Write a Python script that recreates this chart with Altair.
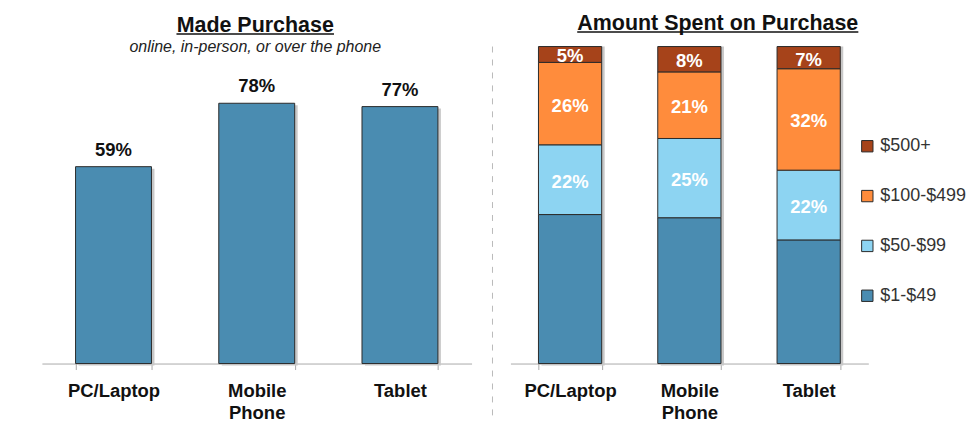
import altair as alt
import pandas as pd

devices = ["PC/Laptop", "Mobile Phone", "Tablet"]
made_purchase = [59, 78, 77]

tiers = ["$1-$49", "$50-$99", "$100-$499", "$500+"]
tier_colors = ["#4A8CB1", "#8DD4F2", "#FF8C3C", "#A6431A"]
spend = {
    "$1-$49": [47, 46, 39],
    "$50-$99": [22, 25, 22],
    "$100-$499": [26, 21, 32],
    "$500+": [5, 8, 7],
}

FONT = "Liberation Sans"
H = 318

left_df = pd.DataFrame({"device": devices, "pct": made_purchase})
left_df["label"] = left_df["pct"].astype(str) + "%"

rows = []
for d_i, d in enumerate(devices):
    s = 0
    for t_i, t in enumerate(tiers):
        v = spend[t][d_i]
        rows.append({"device": d, "tier": t, "pct": v, "y0": s, "y1": s + v})
        s += v
right_df = pd.DataFrame(rows)
right_df["label"] = right_df["pct"].astype(str) + "%"
right_df["mid"] = (right_df["y0"] + right_df["y1"]) / 2

xaxis = alt.Axis(
    title=None, labelAngle=0, labelFont=FONT, labelFontSize=18.5, labelFontWeight="bold",
    labelColor="#111", domainColor="#aaa", tickColor="#aaa", tickSize=6, tickBand="extent",
    labelPadding=12, labelExpr="split(datum.label, ' ')", labelLineHeight=22,
)

# Left chart
lx = alt.X("device:N", sort=devices, axis=xaxis, scale=alt.Scale(paddingInner=0.47, paddingOuter=0.235))
ly = alt.Y("pct:Q", axis=None, scale=alt.Scale(domain=[0, 95]))
left_base = alt.Chart(left_df)
left_shadow = left_base.mark_bar(color="#c8c8c8", xOffset=3, yOffset=2).encode(x=lx, y=ly)
left_bars = left_base.mark_bar(color="#4A8CB1", stroke="#2b2b2b", strokeWidth=1).encode(x=lx, y=ly)
left_text = left_base.mark_text(font=FONT, fontSize=18.5, fontWeight="bold", color="#111",
                                baseline="bottom", dy=-7).encode(x=lx, y=ly, text="label:N")
left_title = alt.Chart(pd.DataFrame({"t": ["Made Purchase"]})).mark_text(
    font=FONT, fontSize=21.5, fontWeight="bold", color="#111", baseline="alphabetic"
).encode(x=alt.value(214), y=alt.value(-15), text="t:N")
left_ul = alt.Chart(pd.DataFrame({"t": [0]})).mark_rule(color="#111", strokeWidth=1.5).encode(
    x=alt.value(135), x2=alt.value(293), y=alt.value(-12.5))
left_sub = alt.Chart(pd.DataFrame({"t": ["online, in-person, or over the phone"]})).mark_text(
    font=FONT, fontSize=16, fontStyle="italic", color="#222", baseline="middle"
).encode(x=alt.value(214), y=alt.value(0), text="t:N")

left = alt.layer(left_shadow, left_bars, left_text, left_title, left_ul, left_sub).properties(
    width=431, height=H)

# Right chart
rx = alt.X("device:N", sort=devices, axis=xaxis, scale=alt.Scale(paddingInner=0.47, paddingOuter=0.235))
ry = alt.Y("y0:Q", axis=None, scale=alt.Scale(domain=[0, 100]))
color = alt.Color("tier:N", scale=alt.Scale(domain=tiers, range=tier_colors),
                  sort=tiers[::-1],
                  legend=alt.Legend(title=None, orient="none", legendX=819, legendY=91,
                                    labelFont=FONT, labelFontSize=18,
                                    labelColor="#333", symbolType="square", symbolSize=130,
                                    symbolStrokeColor="#2b2b2b", symbolStrokeWidth=1,
                                    rowPadding=32, padding=0, labelOffset=4,
                                    values=tiers[::-1]))
right_base = alt.Chart(right_df)
shadow_df = pd.DataFrame({"device": devices, "y0": [0, 0, 0], "y1": [100, 100, 100]})
right_shadow = alt.Chart(shadow_df).mark_bar(color="#c8c8c8", xOffset=3, yOffset=2).encode(
    x=rx, y=ry, y2="y1:Q")
right_bars = right_base.mark_bar(stroke="#2b2b2b", strokeWidth=1).encode(
    x=rx, y=ry, y2="y1:Q", color=color)
right_text = right_base.transform_filter("datum.tier != '$1-$49'").mark_text(
    font=FONT, fontSize=18.5, fontWeight="bold", color="white", baseline="middle", dy=2
).encode(x=rx, y=alt.Y("mid:Q", scale=alt.Scale(domain=[0, 100])), text="label:N")
right_title = alt.Chart(pd.DataFrame({"t": ["Amount Spent on Purchase"]})).mark_text(
    font=FONT, fontSize=21.5, fontWeight="bold", color="#111", baseline="alphabetic"
).encode(x=alt.value(208), y=alt.value(-17), text="t:N")
right_ul = alt.Chart(pd.DataFrame({"t": [0]})).mark_rule(color="#111", strokeWidth=1.5).encode(
    x=alt.value(67), x2=alt.value(349), y=alt.value(-14.5))
sep = alt.Chart(pd.DataFrame({"t": [0]})).mark_rule(color="#bbb", strokeWidth=1, strokeDash=[6, 7]).encode(
    x=alt.value(-18), y=alt.value(0), y2=alt.value(H + 56))

right = alt.layer(sep, right_shadow, right_bars, right_text, right_title, right_ul).properties(
    width=359, height=H)

chart = alt.hconcat(left, right, spacing=20).properties(
    padding={"left": 34, "top": 4, "right": 0, "bottom": 5}, background="white"
).configure_view(strokeWidth=0, stroke="transparent")

chart.save("out.html", embed_options={"renderer": "svg", "actions": False})
